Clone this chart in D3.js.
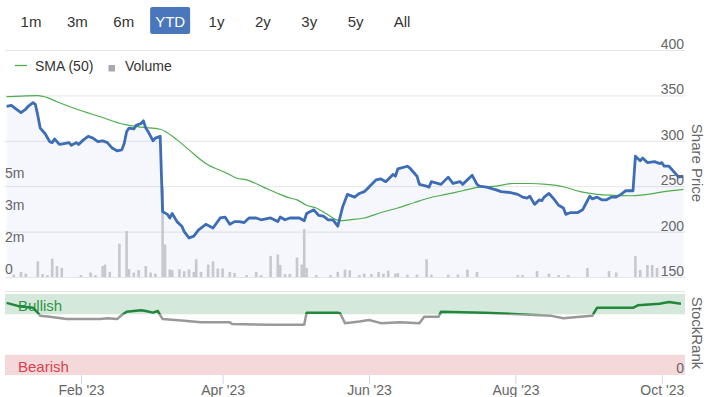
<!DOCTYPE html>
<html>
<head>
<meta charset="utf-8">
<script src="https://cdnjs.cloudflare.com/ajax/libs/d3/7.8.5/d3.min.js"></script>
<style>
  body { margin: 0; background: #fff; }
  svg { display: block; font-family: "Liberation Sans", Arial, sans-serif; }
  .axis text { fill: #666; font-size: 14px; }
  .btn text { font-size: 15px; fill: #333; }
  .legend text { font-size: 14px; fill: #333; }
</style>
</head>
<body>
<div id="chart"></div>
<script>
var ranges = ["1m", "3m", "6m", "YTD", "1y", "2y", "3y", "5y", "All"];
var priceTicks = [150, 200, 250, 300, 350, 400];
var volumeTicks = [0, 1.5, 3, 4.5];
var monthTicks = ["2023-02-01", "2023-04-01", "2023-06-01", "2023-08-01", "2023-10-01"];

// share price (close)
var price = [
  ["2023-01-01",338],["2023-01-03",339],["2023-01-05",335],["2023-01-07",331],["2023-01-09",335],
  ["2023-01-10",338],["2023-01-12",342],["2023-01-13",340],["2023-01-14",328],["2023-01-15",314],
  ["2023-01-17",308],["2023-01-19",299],["2023-01-20",298],["2023-01-21",302],["2023-01-23",296],
  ["2023-01-25",297],["2023-01-27",298],["2023-01-28",295],["2023-01-30",298],["2023-01-31",296],
  ["2023-02-02",301],["2023-02-04",305],["2023-02-06",303],["2023-02-08",299],["2023-02-10",300],
  ["2023-02-12",298],["2023-02-14",292],["2023-02-16",289],["2023-02-18",290],["2023-02-19",297],
  ["2023-02-20",310],["2023-02-21",314],["2023-02-23",313],["2023-02-24",317],["2023-02-26",319],
  ["2023-02-27",322],["2023-02-28",314],["2023-03-01",310],["2023-03-03",300],["2023-03-04",303],
  ["2023-03-06",305],["2023-03-07",222],["2023-03-09",219],["2023-03-10",215],["2023-03-11",220],
  ["2023-03-13",211],["2023-03-15",206],["2023-03-16",200],["2023-03-18",193],["2023-03-20",195],
  ["2023-03-22",202],["2023-03-25",208],["2023-03-28",204],["2023-03-31",215],["2023-04-02",216],
  ["2023-04-04",208],["2023-04-06",211],["2023-04-08",211],["2023-04-10",210],["2023-04-12",215],
  ["2023-04-15",215],["2023-04-17",213],["2023-04-21",215],["2023-04-24",211],["2023-04-25",216],
  ["2023-04-27",213],["2023-04-29",215],["2023-05-03",215],["2023-05-05",212],["2023-05-06",220],
  ["2023-05-09",224],["2023-05-11",218],["2023-05-13",217],["2023-05-15",213],["2023-05-17",213],
  ["2023-05-19",206],["2023-05-21",227],["2023-05-23",241],["2023-05-26",238],["2023-05-28",242],
  ["2023-05-30",244],["2023-06-01",249],["2023-06-04",257],["2023-06-06",258],["2023-06-08",255],
  ["2023-06-11",263],["2023-06-12",261],["2023-06-13",269],["2023-06-17",272],["2023-06-18",270],
  ["2023-06-21",261],["2023-06-22",252],["2023-06-25",250],["2023-06-26",249],["2023-06-27",255],
  ["2023-07-01",252],["2023-07-04",260],["2023-07-06",253],["2023-07-09",255],["2023-07-10",252],
  ["2023-07-14",262],["2023-07-16",252],["2023-07-17",250],["2023-07-20",249],["2023-07-24",246],
  ["2023-07-26",244],["2023-07-30",243],["2023-08-02",241],["2023-08-04",238],["2023-08-06",237],
  ["2023-08-07",239],["2023-08-09",230],["2023-08-11",235],["2023-08-12",234],["2023-08-13",238],
  ["2023-08-15",242],["2023-08-17",236],["2023-08-19",229],["2023-08-21",226],["2023-08-22",219],
  ["2023-08-24",221],["2023-08-27",221],["2023-08-29",224],["2023-08-30",229],["2023-09-01",239],
  ["2023-09-02",236],["2023-09-04",238],["2023-09-06",235],["2023-09-08",235],["2023-09-10",238],
  ["2023-09-12",238],["2023-09-14",241],["2023-09-16",245],["2023-09-19",245],["2023-09-20",283],
  ["2023-09-22",278],["2023-09-23",281],["2023-09-25",276],["2023-09-28",277],["2023-09-30",275],
  ["2023-10-01",276],["2023-10-02",272],["2023-10-04",272],["2023-10-06",266],["2023-10-08",260],
  ["2023-10-10",261]
];

// 50 day simple moving average
var sma = [
  ["2023-01-01",348.6],["2023-01-07",349.3],["2023-01-14",349.7],["2023-01-18",347.5],["2023-01-22",343],
  ["2023-01-30",335],["2023-02-09",326.5],["2023-02-19",318],["2023-02-26",315],["2023-03-06",312.7],
  ["2023-03-13",301],["2023-03-18",290],["2023-03-25",275],["2023-04-03",264],["2023-04-07",258.7],
  ["2023-04-11",257],["2023-04-18",249],["2023-04-24",242],["2023-04-29",237],["2023-05-02",235],
  ["2023-05-06",229],["2023-05-10",226],["2023-05-14",220],["2023-05-20",212],["2023-05-24",213],
  ["2023-05-30",215],["2023-06-06",221],["2023-06-13",226],["2023-06-20",232],["2023-06-26",237],
  ["2023-07-03",241],["2023-07-10",245],["2023-07-17",249],["2023-07-24",250],["2023-07-31",253],
  ["2023-08-07",253],["2023-08-14",252],["2023-08-21",249.4],["2023-08-28",244],["2023-09-04",241],
  ["2023-09-11",240],["2023-09-19",239.5],["2023-09-25",241],["2023-10-02",244],["2023-10-10",246.6]
];

// volume, millions of shares
var volume = [
  ["2023-01-04",0.11],["2023-01-07",0.24],["2023-01-09",0.16],["2023-01-14",0.74],["2023-01-16",0.14],
  ["2023-01-18",0.09],["2023-01-20",0.87],["2023-01-22",0.52],["2023-01-24",0.43],["2023-02-01",0.09],
  ["2023-02-05",0.21],["2023-02-07",0.09],["2023-02-10",0.52],["2023-02-11",0.59],["2023-02-13",0.24],
  ["2023-02-17",1.58],["2023-02-20",2.18],["2023-02-21",0.38],["2023-02-23",0.21],["2023-02-25",0.33],
  ["2023-02-28",0.52],["2023-03-02",0.21],["2023-03-04",0.16],["2023-03-07",4.27],["2023-03-08",1.54],
  ["2023-03-10",0.36],["2023-03-11",0.32],["2023-03-14",0.36],["2023-03-16",0.27],["2023-03-18",0.36],
  ["2023-03-20",0.24],["2023-03-21",0.84],["2023-03-23",0.24],["2023-03-26",0.59],["2023-03-28",0.74],
  ["2023-03-30",0.40],["2023-04-01",0.40],["2023-04-04",0.24],["2023-04-06",0.19],["2023-04-11",0.09],
  ["2023-04-15",0.24],["2023-04-17",0.09],["2023-04-21",1.0],["2023-04-24",1.06],["2023-04-25",0.57],
  ["2023-04-27",0.14],["2023-04-29",0.14],["2023-05-02",0.92],["2023-05-04",0.59],["2023-05-05",2.26],
  ["2023-05-06",0.43],["2023-05-10",0.09],["2023-05-16",0.09],["2023-05-19",0.24],["2023-05-22",0.35],
  ["2023-05-24",0.32],["2023-05-28",0.09],["2023-05-30",0.16],["2023-06-02",0.14],["2023-06-05",0.24],
  ["2023-06-07",0.16],["2023-06-09",0.30],["2023-06-12",0.16],["2023-06-13",0.19],["2023-06-17",0.11],
  ["2023-06-21",0.11],["2023-06-25",0.84],["2023-06-27",0.11],["2023-07-04",0.11],["2023-07-08",0.11],
  ["2023-07-12",0.35],["2023-07-16",0.24],["2023-08-02",0.09],["2023-08-04",0.09],["2023-08-10",0.28],
  ["2023-08-15",0.16],["2023-08-19",0.09],["2023-08-23",0.09],["2023-08-31",0.43],["2023-09-09",0.28],
  ["2023-09-12",0.21],["2023-09-20",1.0],["2023-09-22",0.33],["2023-09-25",0.57],["2023-09-27",0.57],
  ["2023-09-29",0.43]
];

var stockRank = [
  ["2023-01-01",89],["2023-01-06",85],["2023-01-12",83],["2023-01-14",77],["2023-01-15",73],
  ["2023-01-19",72],["2023-01-26",69],["2023-02-02",69],["2023-02-09",69],["2023-02-12",70],
  ["2023-02-16",69],["2023-02-18",74],["2023-02-20",78],["2023-02-26",80],["2023-02-28",79],
  ["2023-03-03",77],["2023-03-05",79],["2023-03-07",69],["2023-03-16",67],["2023-03-23",65],
  ["2023-04-04",65],["2023-04-05",63],["2023-04-20",62],["2023-05-05",62],["2023-05-06",77],
  ["2023-05-19",77],["2023-05-20",76],["2023-05-22",64],["2023-05-28",66],["2023-06-01",68],
  ["2023-06-06",64],["2023-06-14",65],["2023-06-22",64],["2023-06-24",72],["2023-06-30",72],
  ["2023-07-01",78],["2023-07-19",77],["2023-08-02",75],["2023-08-16",73],["2023-08-21",70],
  ["2023-08-28",72],["2023-09-02",73],["2023-09-04",83],["2023-09-09",83],["2023-09-19",83],
  ["2023-09-21",86],["2023-09-30",88],["2023-10-04",90],["2023-10-09",88]
];

var rankBands = [
  { label: "Bullish", from: 75, to: 100, fill: "#d5e8dc", color: "#2f9445" },
  { label: "Bearish", from: 0, to: 25, fill: "#f5d8da", color: "#d6434f" }
];

(function(d3) {

  var width = 711, height = 397
    , left = 5, right = 685
    , parse = d3.utcParse("%Y-%m-%d")

  var x = d3.scaleUtc()
    .domain([parse("2023-01-01"), parse("2023-10-10")])
    .range([6.6, 683.4])
  var yPrice = d3.scaleLinear().domain([150, 400]).range([277, 50])
  var yVol = d3.scaleLinear().domain([0, 1.5]).range([277, 245.3])
  var yRank = d3.scaleLinear().domain([0, 100]).range([375, 294])

  var svg = d3.select("#chart")
    .append("svg")
      .attr("width", width)
      .attr("height", height)

  // Range selector buttons.
  var bx = d3.scalePoint().domain(ranges).range([31, 402])
  var btn = svg.append("g").attr("class", "btn")
    .selectAll("g").data(ranges).enter().append("g")
      .attr("transform", function(d) { return "translate(" + bx(d) + ",0)" })
  btn.filter(function(d) { return d === "YTD" })
    .append("rect")
      .attr("x", -20).attr("y", 7)
      .attr("width", 40).attr("height", 27)
      .attr("rx", 2)
      .attr("fill", "#4a76bb")
  btn.append("text")
    .attr("y", 27)
    .attr("text-anchor", "middle")
    .style("fill", function(d) { return d === "YTD" ? "#fff" : null })
    .text(function(d) { return d })

  // Price grid.
  var grid = svg.append("g")
    .attr("transform", "translate(" + right + ",0)")
    .call(d3.axisLeft(yPrice).tickValues(priceTicks).tickSize(right - left).tickFormat(""))
  grid.select(".domain").remove()
  grid.selectAll("line").attr("stroke", "#e6e6e6")

  // Legend.
  var legend = svg.append("g").attr("class", "legend")
  legend.append("line")
    .attr("x1", 15).attr("x2", 27).attr("y1", 65.5).attr("y2", 65.5)
    .attr("stroke", "#4cae4c").attr("stroke-width", 1.3)
  legend.append("text").attr("x", 35).attr("y", 71).text("SMA (50)")
  legend.append("rect")
    .attr("x", 108.5).attr("y", 65).attr("width", 6.5).attr("height", 6.5)
    .attr("fill", "#a7a9b0")
  legend.append("text").attr("x", 125).attr("y", 71).text("Volume")

  var pts = price.map(function(d) { return [parse(d[0]), d[1]] })

  svg.append("path")
    .datum(pts)
    .attr("fill", "#4472c4")
    .attr("fill-opacity", 0.055)
    .attr("d", d3.area()
      .x(function(d) { return x(d[0]) })
      .y0(yPrice(150))
      .y1(function(d) { return yPrice(d[1]) }))

  svg.append("g")
    .selectAll("rect").data(volume).enter().append("rect")
      .attr("x", function(d) { return x(parse(d[0])) - 1.3 })
      .attr("y", function(d) { return yVol(d[1]) })
      .attr("width", 2.6)
      .attr("height", function(d) { return yVol(0) - yVol(d[1]) })
      .attr("fill", "#c6c8ce")

  svg.append("path")
    .datum(sma)
    .attr("fill", "none")
    .attr("stroke", "#4cae4c")
    .attr("stroke-width", 1.2)
    .attr("d", d3.line()
      .curve(d3.curveMonotoneX)
      .x(function(d) { return x(parse(d[0])) })
      .y(function(d) { return yPrice(d[1]) }))

  svg.append("path")
    .datum(pts)
    .attr("fill", "none")
    .attr("stroke", "#3d6db5")
    .attr("stroke-width", 2.8)
    .attr("stroke-linejoin", "round")
    .attr("d", d3.line()
      .x(function(d) { return x(d[0]) })
      .y(function(d) { return yPrice(d[1]) }))

  // Price labels (right) and volume labels (left).
  var pAxis = svg.append("g").attr("class", "axis")
    .attr("transform", "translate(" + right + ",0)")
    .call(d3.axisLeft(yPrice).tickValues(priceTicks).tickSize(0).tickFormat(d3.format("d")))
  pAxis.select(".domain").remove()
  pAxis.selectAll("text").attr("x", -1).attr("dy", -1.5)

  var vAxis = svg.append("g").attr("class", "axis")
    .attr("transform", "translate(" + left + ",0)")
    .call(d3.axisRight(yVol).tickValues(volumeTicks).tickSize(0)
      .tickFormat(function(v) { return v === 0 ? "0" : Math.round(v) + "m" }))
  vAxis.select(".domain").remove()
  vAxis.selectAll("text").attr("x", 0).attr("dy", -4)

  // StockRank panel.
  svg.append("line")
    .attr("x1", left).attr("x2", right).attr("y1", 291.5).attr("y2", 291.5)
    .attr("stroke", "#e6e6e6")

  var bands = svg.append("g").selectAll("g").data(rankBands).enter().append("g")
  bands.append("rect")
    .attr("x", left).attr("width", right - left)
    .attr("y", function(d) { return yRank(d.to) })
    .attr("height", function(d) { return yRank(d.from) - yRank(d.to) })
    .attr("fill", function(d) { return d.fill })
  bands.append("text")
    .attr("x", 18)
    .attr("y", function(d) { return yRank(d.from) - 3 })
    .attr("fill", function(d) { return d.color })
    .style("font-size", "15px")
    .text(function(d) { return d.label })

  var rankLine = d3.line()
    .x(function(d) { return x(parse(d[0])) })
    .y(function(d) { return yRank(d[1]) })

  var defs = svg.append("defs")
  defs.append("clipPath").attr("id", "above")
    .append("rect").attr("x", 0).attr("y", 0).attr("width", width).attr("height", yRank(75))
  defs.append("clipPath").attr("id", "below")
    .append("rect").attr("x", 0).attr("y", yRank(75)).attr("width", width).attr("height", height)

  var zones = [["below", "#999"], ["above", "#21873b"]]
  zones.forEach(function(z) {
    svg.append("path")
      .datum(stockRank)
      .attr("clip-path", "url(#" + z[0] + ")")
      .attr("fill", "none")
      .attr("stroke", z[1])
      .attr("stroke-width", 2.5)
      .attr("stroke-linejoin", "round")
      .attr("d", rankLine)
  })

  var rAxis = svg.append("g").attr("class", "axis")
    .attr("transform", "translate(" + right + ",0)")
    .call(d3.axisLeft(yRank).tickValues([0]).tickSize(0))
  rAxis.select(".domain").remove()
  rAxis.selectAll("text").attr("x", -1).attr("dy", -3)

  // Date axis.
  var xAxis = svg.append("g").attr("class", "axis")
    .attr("transform", "translate(0,375)")
    .call(d3.axisBottom(x)
      .tickValues(monthTicks.map(parse))
      .tickSize(9)
      .tickSizeOuter(0)
      .tickPadding(1)
      .tickFormat(d3.utcFormat("%b '%y")))
  xAxis.select(".domain").remove()
  xAxis.selectAll("line").attr("stroke", "#ccd6eb")

  // Axis titles.
  svg.append("g").attr("class", "axis")
    .selectAll("text").data([["Share Price", 163], ["StockRank", 333]]).enter().append("text")
      .attr("transform", function(d) { return "translate(692," + d[1] + ") rotate(90)" })
      .attr("text-anchor", "middle")
      .style("font-size", "15px")
      .text(function(d) { return d[0] })

})(d3);
</script>
</body>
</html>
